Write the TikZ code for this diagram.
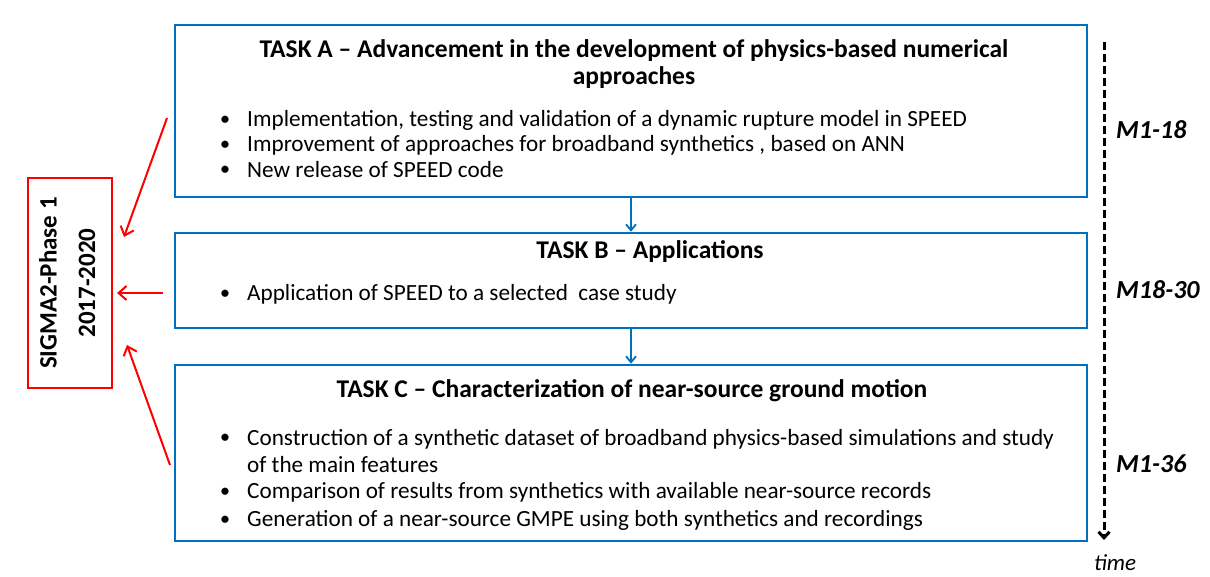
\documentclass[tikz,border=0pt]{standalone}
\usepackage{fontspec}
\setmainfont{Carlito}
\usetikzlibrary{arrows.meta,calc}
\definecolor{tblue}{RGB}{0,112,192}
\definecolor{tred}{RGB}{255,0,0}
\tikzset{
  taskbox/.style={draw=tblue,line width=2.6pt,minimum width=912pt,inner sep=0pt},
  title/.style={font=\fontsize{25.5}{27.5}\selectfont\bfseries,align=center,inner sep=0pt},
  item/.style={font=\fontsize{23.2}{27}\selectfont,anchor=west,inner sep=0pt,align=left},
  dot/.style={font=\fontsize{17}{20}\selectfont\bfseries,inner sep=0pt},
  blueconn/.style={draw=tblue,line width=1.8pt,-{Straight Barb[length=6pt,width=10pt]}},
  redconn/.style={draw=tred,line width=2pt,-{Straight Barb[length=8pt,width=14pt]}},
  mlabel/.style={font=\fontsize{26}{28}\selectfont\bfseries\itshape,anchor=west,inner sep=0pt},
  sigtext/.style={font=\fontsize{25}{27}\selectfont\bfseries,rotate=90,inner sep=0pt},
}
\begin{document}
\begin{tikzpicture}[x=1pt,y=1pt]
\useasboundingbox (0,0) rectangle (1210,-577);
% boxes
\node[taskbox,minimum height=172pt] (A) at (631,-111) {};
\node[taskbox,minimum height=95pt] (B) at (631,-280.5) {};
\node[taskbox,minimum height=176pt] (C) at (631,-453) {};
\node[draw=tred,line width=2pt,minimum width=84pt,minimum height=210pt,inner sep=0pt] (S) at (69.5,-283) {};
% red box text
\node[sigtext] (s1) at (48,-283) {SIGMA2-Phase 1};
\node[sigtext] (s2) at (87,-283) {2017-2020};
% Task A
\node[title] (tA) at (634,-64) {TASK A – Advancement in the development of physics-based numerical\\approaches};
\foreach \y/\t [count=\i] in {-120/{Implementation, testing and validation of a dynamic rupture model in SPEED},
  -145/{Improvement of approaches for broadband synthetics , based on ANN},
  -170/{New release of SPEED code}}{
  \node[dot] (dA\i) at (225,\y) {•};
  \node[item] (iA\i) at (247,\y) {\t};
}
% Task B
\node[title] (tB) at (650,-252) {TASK B – Applications};
\node[dot] (dB1) at (225,-294) {•};
\node[item] (iB1) at (247,-294) {Application of SPEED to a selected\ \ case study};
% Task C
\node[title] (tC) at (632,-391) {TASK C – Characterization of near-source ground motion};
\node[dot] (dC1) at (225,-438) {•};
\node[item,anchor=north west] (iC1) at (247,-429.5) {Construction of a synthetic dataset of broadband physics-based simulations and study\\of the main features};
\node[dot] (dC2) at (225,-492) {•};
\node[item] (iC2) at (247,-492) {Comparison of results from synthetics with available near-source records};
\node[dot] (dC3) at (225,-520) {•};
\node[item] (iC3) at (247,-520) {Generation of a near-source GMPE using both synthetics and recordings};
% blue connectors
\draw[blueconn] (A.south) -- (B.north);
\draw[blueconn] (B.south) -- (C.north);
% red connectors
\coordinate (r1s) at (167,-118);
\coordinate (r1e) at (124,-237);
\coordinate (r2s) at (163,-293);
\coordinate (r2e) at (117,-293);
\coordinate (r3s) at (170,-465);
\coordinate (r3e) at (127,-345);
\draw[redconn] (r1s) -- (r1e);
\draw[redconn] (r2s) -- (r2e);
\draw[redconn] (r3s) -- (r3e);
% time axis
\coordinate (t0) at (1104,-42);
\coordinate (t1) at (1104,-540);
\draw[line width=3pt,dash pattern=on 8pt off 4pt,-{Straight Barb[length=6pt,width=11pt]}] (t0) -- (t1);
\node[mlabel] (m1) at (1116,-130) {M1-18};
\node[mlabel] (m2) at (1116,-290) {M18-30};
\node[mlabel] (m3) at (1116,-464) {M1-36};
\node[font=\fontsize{23}{25}\selectfont\itshape,inner sep=0pt] (time) at (1115,-563) {time};
\end{tikzpicture}
\end{document}
